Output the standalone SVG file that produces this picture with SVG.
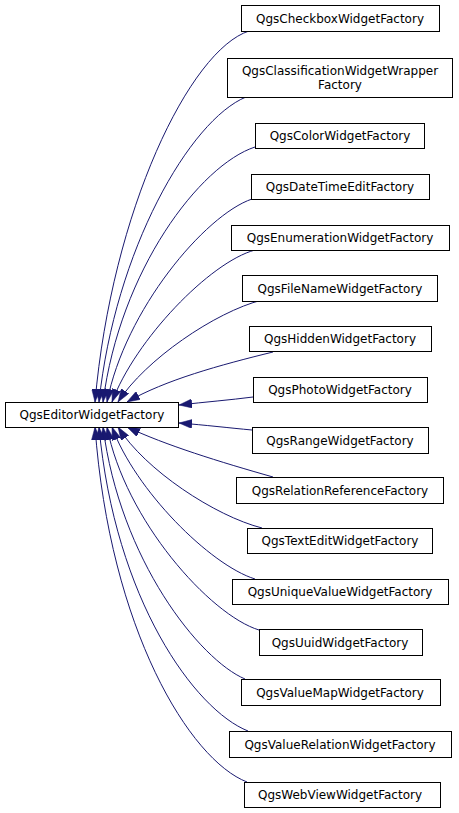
<svg xmlns="http://www.w3.org/2000/svg" width="459" height="813" viewBox="0 0 459 813">
<style>
.n rect{fill:#ffffff;stroke:#000000;stroke-width:1}
.n text{font-family:"DejaVu Sans",sans-serif;font-size:12px;fill:#000000;text-anchor:middle}
.e path{fill:none;stroke:#191970;stroke-width:1;marker-end:url(#ah)}
</style>
<defs>
<marker id="ah" markerUnits="userSpaceOnUse" markerWidth="13" markerHeight="9" viewBox="0 0 13 9" refX="13" refY="4.5" orient="auto">
<path d="M0,0 L13,4.5 L0,9 z" fill="#191970" stroke="#191970" stroke-width="0.5"/>
</marker>
</defs>
<rect width="459" height="813" fill="#ffffff"/>
<g id="edges" class="e">
<path d="M249,31 C190,50 112,210 95,402"/>
<path d="M246,97 C190,120 115,250 99,402"/>
<path d="M255,147 C200,165 120,270 103,402"/>
<path d="M252,199 C205,215 125,310 107,402"/>
<path d="M255,250 C210,262 135,340 112,402"/>
<path d="M262,300 C215,312 145,360 118,402"/>
<path d="M273,352 C220,365 165,380 127,402"/>
<path d="M253,397 C230,400 205,402 179,405"/>
<path d="M252,430 C230,428 205,425 179,423"/>
<path d="M273,477 C220,462 165,445 127,427"/>
<path d="M262,528 C215,516 145,470 118,427"/>
<path d="M255,579 C210,565 135,490 112,427"/>
<path d="M259,630 C210,615 125,520 107,427"/>
<path d="M245,679 C200,660 120,560 103,427"/>
<path d="M248,731 C195,710 115,600 99,427"/>
<path d="M247,782 C190,760 110,630 95,427"/>
</g>
<g id="QgsEditorWidgetFactory" class="n"><rect x="5.5" y="402.5" width="173" height="25"/><text x="92" y="419">QgsEditorWidgetFactory</text></g>
<g id="QgsCheckboxWidgetFactory" class="n"><rect x="241.5" y="5.5" width="198" height="26"/><text x="340" y="22.5">QgsCheckboxWidgetFactory</text></g>
<g id="QgsClassificationWidgetWrapperFactory" class="n"><rect x="227.5" y="58.5" width="225" height="39"/><text x="340" y="75">QgsClassificationWidgetWrapper</text><text x="340" y="89">Factory</text></g>
<g id="QgsColorWidgetFactory" class="n"><rect x="255.5" y="123.5" width="169" height="25"/><text x="340" y="140">QgsColorWidgetFactory</text></g>
<g id="QgsDateTimeEditFactory" class="n"><rect x="251.5" y="174.5" width="178" height="25"/><text x="340" y="191">QgsDateTimeEditFactory</text></g>
<g id="QgsEnumerationWidgetFactory" class="n"><rect x="231.5" y="225.5" width="218" height="25"/><text x="340" y="242">QgsEnumerationWidgetFactory</text></g>
<g id="QgsFileNameWidgetFactory" class="n"><rect x="242.5" y="275.5" width="195" height="26"/><text x="340" y="292.5">QgsFileNameWidgetFactory</text></g>
<g id="QgsHiddenWidgetFactory" class="n"><rect x="249.5" y="326.5" width="182" height="25"/><text x="340" y="343">QgsHiddenWidgetFactory</text></g>
<g id="QgsPhotoWidgetFactory" class="n"><rect x="253.5" y="377.5" width="174" height="25"/><text x="340" y="394">QgsPhotoWidgetFactory</text></g>
<g id="QgsRangeWidgetFactory" class="n"><rect x="252.5" y="427.5" width="176" height="26"/><text x="340" y="444.5">QgsRangeWidgetFactory</text></g>
<g id="QgsRelationReferenceFactory" class="n"><rect x="236.5" y="477.5" width="207" height="26"/><text x="340" y="494.5">QgsRelationReferenceFactory</text></g>
<g id="QgsTextEditWidgetFactory" class="n"><rect x="247.5" y="528.5" width="185" height="25"/><text x="340" y="545">QgsTextEditWidgetFactory</text></g>
<g id="QgsUniqueValueWidgetFactory" class="n"><rect x="232.5" y="579.5" width="216" height="25"/><text x="340" y="596">QgsUniqueValueWidgetFactory</text></g>
<g id="QgsUuidWidgetFactory" class="n"><rect x="259.5" y="629.5" width="163" height="26"/><text x="340" y="646.5">QgsUuidWidgetFactory</text></g>
<g id="QgsValueMapWidgetFactory" class="n"><rect x="241.5" y="679.5" width="199" height="26"/><text x="340" y="696.5">QgsValueMapWidgetFactory</text></g>
<g id="QgsValueRelationWidgetFactory" class="n"><rect x="229.5" y="731.5" width="222" height="26"/><text x="340" y="748.5">QgsValueRelationWidgetFactory</text></g>
<g id="QgsWebViewWidgetFactory" class="n"><rect x="244.5" y="782.5" width="196" height="25"/><text x="340" y="799">QgsWebViewWidgetFactory</text></g>
</svg>
